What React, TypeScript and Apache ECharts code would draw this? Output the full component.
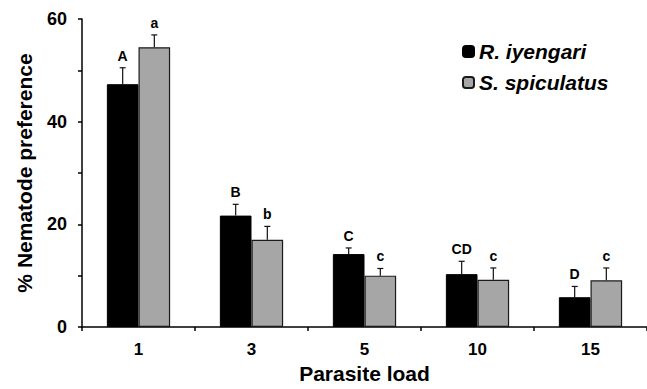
import React, { useEffect, useRef } from "react";
import * as echarts from "echarts";

const categories = ["1", "3", "5", "10", "15"];
const seriesNames = ["R. iyengari", "S. spiculatus"];
const iyengariValues = [47.3, 21.7, 14.2, 10.3, 5.8];
const iyengariErrTop = [50.5, 23.9, 15.4, 12.8, 7.9];
const iyengariLetters = ["A", "B", "C", "CD", "D"];
const spiculatusValues = [54.5, 17.0, 10.0, 9.2, 9.1];
const spiculatusErrTop = [56.9, 19.6, 11.4, 11.5, 11.5];
const spiculatusLetters = ["a", "b", "c", "c", "c"];
const yTicks = { min: 0, max: 60, interval: 20 };

const FONT = "'Liberation Sans', Arial, sans-serif";
const CAT_GAP = 0.44;

function makeErrSeries(idx: number, values: number[], tops: number[], letters: string[]) {
  return {
    type: "custom",
    name: seriesNames[idx] + " err",
    z: 5,
    silent: true,
    data: values.map((v, i) => [i, v, tops[i]]),
    renderItem: (params: any, api: any) => {
      const cat = api.value(0);
      const base = api.coord([cat, api.value(1)]);
      const top = api.coord([cat, api.value(2)]);
      const band = api.size([1, 0])[0];
      const bw = (band * (1 - CAT_GAP)) / 2;
      const x = base[0] + (idx === 0 ? -bw / 2 : bw / 2);
      const cap = 3;
      const letter = letters[cat];
      return {
        type: "group",
        children: [
          { type: "line", shape: { x1: x, y1: base[1], x2: x, y2: top[1] }, style: { stroke: "#111", lineWidth: 1.2 } },
          { type: "line", shape: { x1: x - cap, y1: top[1], x2: x + cap, y2: top[1] }, style: { stroke: "#111", lineWidth: 1.2 } },
          {
            type: "text",
            x: x,
            y: top[1] - 5,
            style: {
              text: letter,
              fill: "#000",
              font: `bold 14px ${FONT}`,
              align: "center",
              verticalAlign: "bottom",
            },
          },
        ],
      };
    },
  };
}

export default function App() {
  const ref = useRef<HTMLDivElement>(null);
  useEffect(() => {
    document.body.style.margin = "0";
    if (!ref.current) return;
    const chart = echarts.init(ref.current, null, { renderer: "svg" });
    chart.setOption({
      animation: false,
      backgroundColor: "#fff",
      grid: { left: 82, right: -3, top: 19, bottom: 59, containLabel: false },
      legend: {
        orient: "vertical",
        left: 457,
        top: 36,
        itemWidth: 11,
        itemHeight: 11,
        itemGap: 10,
        data: seriesNames,
        textStyle: { fontFamily: FONT, fontSize: 21, fontWeight: "bold", fontStyle: "italic", color: "#000", padding: [0, 0, 0, 0] },
      },
      xAxis: {
        type: "category",
        data: categories,
        name: "Parasite load",
        nameLocation: "middle",
        nameGap: 36,
        nameTextStyle: { fontFamily: FONT, fontSize: 21, fontWeight: "bold", color: "#000" },
        axisLine: { lineStyle: { color: "#000", width: 1.5 } },
        axisTick: { show: true, length: 4, interval: 0, lineStyle: { color: "#000", width: 1.5 } },
        axisLabel: { margin: 14, fontFamily: FONT, fontSize: 17, fontWeight: "bold", color: "#000" },
      },
      yAxis: {
        type: "value",
        min: yTicks.min,
        max: yTicks.max,
        interval: yTicks.interval,
        name: "% Nematode preference",
        nameLocation: "middle",
        nameGap: 47,
        nameTextStyle: { fontFamily: FONT, fontSize: 21, fontWeight: "bold", color: "#000" },
        axisLine: { show: true, lineStyle: { color: "#000", width: 1.5 } },
        axisTick: { show: true, length: 4, lineStyle: { color: "#000", width: 1.5 } },
        minorTick: { show: true, splitNumber: 2, length: 4, lineStyle: { color: "#000", width: 1.5 } },
        splitLine: { show: false },
        axisLabel: { margin: 15, fontFamily: FONT, fontSize: 18, fontWeight: "bold", color: "#000" },
      },
      series: [
        {
          type: "bar",
          name: seriesNames[0],
          data: iyengariValues,
          barGap: "0%",
          barCategoryGap: "44%",
          itemStyle: { color: "#000", borderColor: "#000", borderWidth: 1 },
        },
        {
          type: "bar",
          name: seriesNames[1],
          data: spiculatusValues,
          barGap: "0%",
          barCategoryGap: "44%",
          itemStyle: { color: "#a6a6a6", borderColor: "#1a1a1a", borderWidth: 1.2 },
        },
        makeErrSeries(0, iyengariValues, iyengariErrTop, iyengariLetters),
        makeErrSeries(1, spiculatusValues, spiculatusErrTop, spiculatusLetters),
      ],
    });
    return () => chart.dispose();
  }, []);
  return <div ref={ref} style={{ position: "fixed", left: 0, top: 0, width: 647, height: 389 }} />;
}
